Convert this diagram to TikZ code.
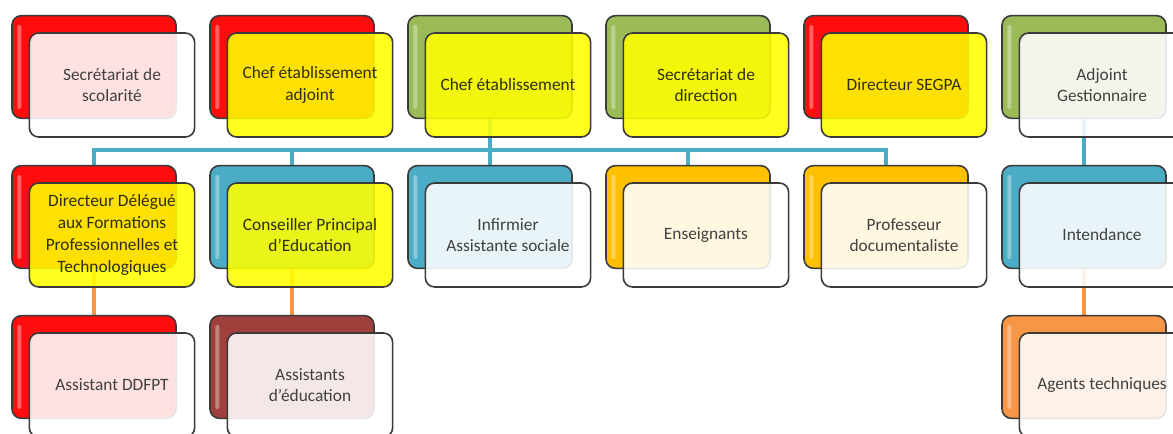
\documentclass[tikz,border=0pt]{standalone}
\usepackage{fontspec}
\setmainfont{Carlito}
\usetikzlibrary{shapes,backgrounds}
\definecolor{boxred}{HTML}{FF0C0C}
\definecolor{boxgreen}{HTML}{9BBB59}
\definecolor{boxblue}{HTML}{4BACC6}
\definecolor{boxgold}{HTML}{FFC000}
\definecolor{boxmaroon}{HTML}{A0403C}
\definecolor{boxorange}{HTML}{F79646}
\definecolor{boxyellow}{HTML}{FFFF00}
\definecolor{boxline}{HTML}{3A3A3A}
\definecolor{boxtext}{HTML}{404040}
\definecolor{boxtextdark}{HTML}{2E2E14}

\begin{document}
\begin{tikzpicture}[x=0.75pt,y=-0.75pt,
    back/.style={draw=boxline, line width=1.2pt, rounded corners=7pt,
      minimum width=123pt, minimum height=77pt, inner sep=0pt, fill=#1,
      path picture={\fill[white,fill opacity=.35,rounded corners=1.5pt]
        ([xshift=4pt,yshift=-7pt]path picture bounding box.north west) rectangle
        ([xshift=7pt,yshift=7pt]path picture bounding box.south west);}},
    front/.style={draw=boxline, line width=1.2pt, rounded corners=7pt,
      minimum width=124pt, minimum height=78pt, inner sep=2pt, fill=#1,
      fill opacity=.88, text opacity=1, text=boxtext, align=center,
      font=\fontsize{13}{16.3}\selectfont, shift={(18,18)}},
    hot/.style={front=boxyellow, text=boxtextdark},
    busline/.style={boxblue, line width=2.8pt},
    subline/.style={boxorange, line width=2.8pt}]
  \useasboundingbox (0,0) rectangle (1173,433);
  \clip (0,0) rectangle (1173,433);
  % top row
  \node[back=boxred] (scolB) at (94,67) {};
  \node[front=white] (scol) at (scolB) {Secrétariat de\\scolarité};
  \node[back=boxred] (adjB) at (292,67) {};
  \node[hot] (adj) at (adjB) {Chef établissement\\adjoint};
  \node[back=boxgreen] (chefB) at (490,67) {};
  \node[hot] (chef) at (chefB) {Chef établissement};
  \node[back=boxgreen] (dirB) at (688,67) {};
  \node[hot] (dir) at (dirB) {Secrétariat de\\direction};
  \node[back=boxred] (segpaB) at (886,67) {};
  \node[hot] (segpa) at (segpaB) {Directeur SEGPA};
  \node[back=boxgreen] (gestB) at (1084,67) {};
  \node[front=white] (gest) at (gestB) {Adjoint\\Gestionnaire};
  % middle row
  \node[back=boxred] (ddfptB) at (94,217) {};
  \node[hot] (ddfpt) at (ddfptB) {Directeur Délégué\\aux Formations\\Professionnelles et\\Technologiques};
  \node[back=boxblue] (cpeB) at (292,217) {};
  \node[hot] (cpe) at (cpeB) {Conseiller Principal\\d'Education};
  \node[back=boxblue] (infB) at (490,217) {};
  \node[front=white] (inf) at (infB) {Infirmier\\Assistante sociale};
  \node[back=boxgold] (ensB) at (688,217) {};
  \node[front=white] (ens) at (ensB) {Enseignants};
  \node[back=boxgold] (docB) at (886,217) {};
  \node[front=white] (doc) at (docB) {Professeur\\documentaliste};
  \node[back=boxblue] (intB) at (1084,217) {};
  \node[front=white] (int) at (intB) {Intendance};
  % bottom row
  \node[back=boxred] (asdB) at (94,367) {};
  \node[front=white] (asd) at (asdB) {Assistant DDFPT};
  \node[back=boxmaroon] (aedB) at (292,367) {};
  \node[front=white] (aed) at (aedB) {Assistants\\d'éducation};
  \node[back=boxorange] (agtB) at (1084,367) {};
  \node[front=white] (agt) at (agtB) {Agents techniques};
  % connectors
  \begin{scope}[on background layer]
    \coordinate (bus) at (490,150);
    \draw[busline] (chefB.south) -- (bus) -- (infB.north);
    \draw[busline] (ddfptB.north) |- (bus) -| (docB.north);
    \draw[busline] (cpeB.north) -- (cpeB |- bus);
    \draw[busline] (ensB.north) -- (ensB |- bus);
    \draw[busline] (gestB.south) -- (intB.north);
    \draw[subline] (ddfptB.south) -- (asdB.north);
    \draw[subline] (cpeB.south) -- (aedB.north);
    \draw[subline] (intB.south) -- (agtB.north);
  \end{scope}
\end{tikzpicture}
\end{document}
